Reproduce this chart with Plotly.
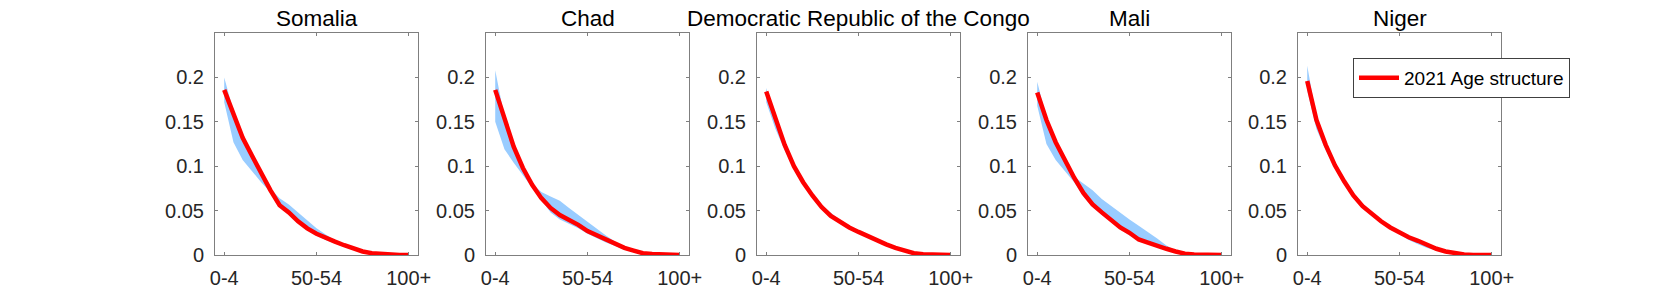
import plotly.graph_objects as go

age_groups = ["0-4", "5-9", "10-14", "15-19", "20-24", "25-29", "30-34", "35-39", "40-44",
              "45-49", "50-54", "55-59", "60-64", "65-69", "70-74", "75-79", "80-84",
              "85-89", "90-94", "95-99", "100+"]
countries = ["Somalia", "Chad", "Democratic Republic of the Congo", "Mali", "Niger"]

somalia_2021 = [0.186, 0.158, 0.132, 0.112, 0.092, 0.073, 0.056, 0.048, 0.038, 0.030, 0.024,
                0.019, 0.015, 0.011, 0.007, 0.004, 0.002, 0.001, 0.0003, 0.0001, 0]
somalia_upper = [0.200, 0.162, 0.134, 0.113, 0.093, 0.075, 0.064, 0.057, 0.048, 0.039, 0.030,
                 0.023, 0.016, 0.010, 0.006, 0.003, 0.0015, 0.0005, 0.0002, 0, 0]
somalia_lower = [0.172, 0.127, 0.107, 0.094, 0.082, 0.071, 0.055, 0.046, 0.036, 0.028, 0.022,
                 0.017, 0.013, 0.009, 0.006, 0.003, 0.0012, 0.0004, 0.0001, 0, 0]

chad_2021 = [0.186, 0.152, 0.122, 0.098, 0.079, 0.064, 0.053, 0.045, 0.040, 0.034, 0.027,
             0.022, 0.017, 0.012, 0.008, 0.005, 0.002, 0.001, 0.0003, 0.0001, 0]
chad_upper = [0.208, 0.155, 0.124, 0.099, 0.080, 0.071, 0.066, 0.061, 0.053, 0.045, 0.037,
              0.029, 0.022, 0.015, 0.009, 0.004, 0.0015, 0.0005, 0.0002, 0, 0]
chad_lower = [0.150, 0.119, 0.104, 0.090, 0.076, 0.061, 0.048, 0.040, 0.035, 0.030, 0.024,
              0.019, 0.014, 0.010, 0.006, 0.003, 0.0012, 0.0004, 0.0001, 0, 0]

drc_2021 = [0.184, 0.152, 0.124, 0.100, 0.082, 0.067, 0.054, 0.044, 0.037, 0.031, 0.026,
            0.021, 0.017, 0.012, 0.008, 0.0045, 0.002, 0.0008, 0.0002, 0, 0]
drc_upper = [0.188, 0.154, 0.125, 0.101, 0.083, 0.068, 0.056, 0.047, 0.039, 0.032, 0.027,
             0.022, 0.017, 0.012, 0.008, 0.0045, 0.002, 0.0008, 0.0002, 0, 0]
drc_lower = [0.172, 0.142, 0.118, 0.097, 0.080, 0.065, 0.053, 0.043, 0.036, 0.030, 0.025,
             0.020, 0.016, 0.011, 0.0075, 0.004, 0.0018, 0.0007, 0.0002, 0, 0]

mali_2021 = [0.183, 0.152, 0.127, 0.106, 0.087, 0.070, 0.057, 0.048, 0.040, 0.031, 0.025,
             0.0175, 0.014, 0.010, 0.007, 0.004, 0.0015, 0.0005, 0.0001, 0, 0]
mali_upper = [0.195, 0.154, 0.128, 0.107, 0.088, 0.080, 0.073, 0.063, 0.055, 0.048, 0.040,
              0.033, 0.026, 0.0185, 0.0106, 0.005, 0.002, 0.0006, 0.0001, 0, 0]
mali_lower = [0.168, 0.125, 0.107, 0.094, 0.082, 0.066, 0.054, 0.045, 0.037, 0.029, 0.022,
              0.016, 0.013, 0.009, 0.006, 0.003, 0.0012, 0.0004, 0.0001, 0, 0]

niger_2021 = [0.196, 0.152, 0.124, 0.101, 0.083, 0.067, 0.055, 0.046, 0.038, 0.031, 0.025,
              0.020, 0.016, 0.011, 0.007, 0.004, 0.002, 0.0005, 0.0001, 0, 0]
niger_upper = [0.213, 0.155, 0.126, 0.103, 0.086, 0.070, 0.058, 0.048, 0.039, 0.032, 0.026,
               0.021, 0.016, 0.011, 0.007, 0.004, 0.002, 0.0005, 0.0001, 0, 0]
niger_lower = [0.185, 0.142, 0.118, 0.098, 0.081, 0.065, 0.054, 0.045, 0.037, 0.030, 0.024,
               0.017, 0.012, 0.008, 0.005, 0.003, 0.0012, 0.0004, 0.0001, 0, 0]

series = [
    (somalia_2021, somalia_upper, somalia_lower),
    (chad_2021, chad_upper, chad_lower),
    (drc_2021, drc_upper, drc_lower),
    (mali_2021, mali_upper, mali_lower),
    (niger_2021, niger_upper, niger_lower),
]

y_tickvals = [0, 0.05, 0.1, 0.15, 0.2]
y_ticktext = ["0", "0.05", "0.1", "0.15", "0.2"]
x_tickvals = ["0-4", "50-54", "100+"]

W, H = 1661, 288
box_left = [215, 486, 757, 1028, 1298]
box_w = 203
box_top, box_bottom = 33, 255

band_color = "rgb(153,204,255)"
line_color = "#ff0000"
axis_color = "#7f7f7f"
text_color = "#262626"
FONT = "Liberation Sans, Arial, Helvetica, sans-serif"

fig = go.Figure()
layout = dict(
    width=W, height=H,
    margin=dict(l=0, r=0, t=0, b=0),
    paper_bgcolor="white", plot_bgcolor="white",
    font=dict(family=FONT, size=20, color=text_color),
    showlegend=True,
    legend=dict(x=1353 / W, y=1 - 58 / H, xanchor="left", yanchor="top",
                bgcolor="white", bordercolor="#404040", borderwidth=1,
                font=dict(size=19, color="black"), itemwidth=40,
                tracegroupgap=0),
)
annotations = []

for k, (name, (mid, up, lo)) in enumerate(zip(countries, series)):
    n = k + 1
    xa = "x" if n == 1 else f"x{n}"
    ya = "y" if n == 1 else f"y{n}"
    fig.add_trace(go.Scatter(x=age_groups, y=lo, mode="lines", line=dict(width=0, color=band_color),
                             showlegend=False, hoverinfo="skip", xaxis=xa, yaxis=ya))
    fig.add_trace(go.Scatter(x=age_groups, y=up, mode="lines", line=dict(width=0, color=band_color),
                             fill="tonexty", fillcolor=band_color,
                             showlegend=False, hoverinfo="skip", xaxis=xa, yaxis=ya))
    fig.add_trace(go.Scatter(x=age_groups, y=mid, mode="lines", line=dict(width=4.5, color=line_color),
                             name="2021 Age structure", showlegend=(n == 5), xaxis=xa, yaxis=ya))
    x0 = box_left[k] / W
    x1 = (box_left[k] + box_w) / W
    common = dict(showline=True, linecolor=axis_color, linewidth=1, mirror="ticks",
                  ticks="inside", ticklen=3, tickcolor=axis_color, showgrid=False,
                  zeroline=False, automargin=False,
                  tickfont=dict(family=FONT, size=20, color=text_color))
    xkey = "xaxis" if n == 1 else f"xaxis{n}"
    ykey = "yaxis" if n == 1 else f"yaxis{n}"
    layout[xkey] = dict(domain=[x0, x1], anchor=ya, type="category",
                        categoryorder="array", categoryarray=age_groups,
                        range=[-1, 21], tickmode="array", tickvals=x_tickvals,
                        ticktext=x_tickvals, ticklabelstandoff=5, **common)
    layout[ykey] = dict(domain=[1 - box_bottom / H, 1 - box_top / H], anchor=xa,
                        range=[0, 0.25], tickmode="array", tickvals=y_tickvals,
                        ticktext=y_ticktext, ticklabelstandoff=6, **common)
    annotations.append(dict(text=name, x=(x0 + x1) / 2, y=1 - 19 / H, xref="paper", yref="paper",
                            xanchor="center", yanchor="middle", showarrow=False,
                            font=dict(family=FONT, size=22.5, color="black")))

layout["annotations"] = annotations
fig.update_layout(**layout)
fig.write_html("out.html", config={"displayModeBar": False},
               post_script="document.body.style.margin='0';document.body.style.overflow='hidden';")
